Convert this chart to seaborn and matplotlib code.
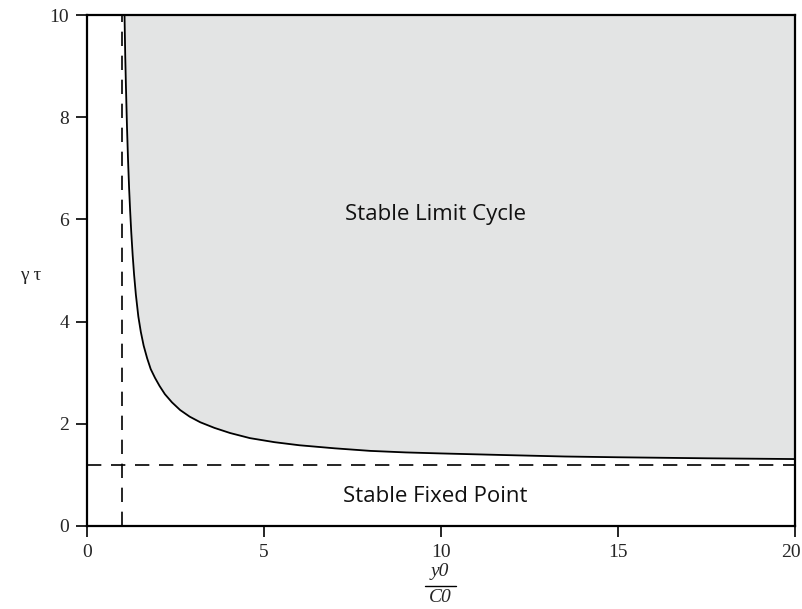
import matplotlib
matplotlib.use("Agg")
import matplotlib.pyplot as plt
import matplotlib.transforms as mtransforms
from matplotlib.lines import Line2D
import seaborn as sns
import pandas as pd

# Boundary curve
ratio = [1.06, 1.08, 1.10, 1.13, 1.16, 1.19, 1.22, 1.25, 1.29, 1.33, 1.38, 1.45,
         1.52, 1.60, 1.70, 1.80, 1.92, 2.05, 2.2, 2.4, 2.63, 2.9, 3.2, 3.6, 4.04,
         4.6, 5.3, 6.0, 7.0, 8.0, 9.0, 10.0, 11.7, 13.5, 15.0, 17.5, 20.0]
gamma_tau = [10.0, 9.2, 8.6, 7.8, 7.15, 6.6, 6.15, 5.75, 5.3, 4.92, 4.53, 4.1,
             3.8, 3.53, 3.28, 3.07, 2.9, 2.74, 2.58, 2.42, 2.27, 2.14, 2.03, 1.92,
             1.82, 1.72, 1.64, 1.58, 1.52, 1.47, 1.44, 1.42, 1.39, 1.36, 1.345,
             1.325, 1.31]
asym_x = 1.0
asym_y = 1.2
x_ticks = [0, 5, 10, 15, 20]
y_ticks = [0, 2, 4, 6, 8, 10]
region_labels = ["Stable Limit Cycle", "Stable Fixed Point"]
region_pos = [(9.85, 6.1), (9.85, 0.58)]

sns.set_style("ticks")

df = pd.DataFrame({"ratio": ratio, "gt": gamma_tau})

W, H = 803, 609
fig = plt.figure(figsize=(W / 100, H / 100), dpi=100)
ax = fig.add_axes([87 / W, 83 / H, (795 - 87) / W, (526 - 15) / H])

ax.fill_between(df["ratio"], df["gt"], 10, color="#e3e4e4", lw=0, zorder=1)
sns.lineplot(data=df, x="ratio", y="gt", ax=ax, color="black", lw=1.3,
             sort=False, zorder=3)
ax.axvline(asym_x, color="black", lw=1.2, dashes=(8.6, 5.8), zorder=2)
ax.axhline(asym_y, color="black", lw=1.2, dashes=(8.6, 5.8), zorder=2)

for txt, (tx, ty) in zip(region_labels, region_pos):
    ax.text(tx, ty, txt, ha="center", va="center", fontsize=16,
            family="Open Sans", color="#111111")

ax.set_xlim(0, 20)
ax.set_ylim(0, 10)
ax.set_xticks(x_ticks)
ax.set_yticks(y_ticks)
ax.set_xticklabels([str(v) for v in x_ticks], family="Liberation Serif", fontsize=14)
ax.set_yticklabels([str(v) for v in y_ticks], family="Liberation Serif", fontsize=14)
ax.tick_params(direction="out", length=8, width=1.2, color="black", pad=5)
for s in ax.spines.values():
    s.set_linewidth(1.6)
    s.set_color("black")
    s.set_visible(True)

# keep the last x tick label inside the canvas
last = ax.get_xticklabels()[-1]
last.set_transform(last.get_transform() +
                   mtransforms.ScaledTranslation(-3 / 72, 0, fig.dpi_scale_trans))

# x label drawn as a stacked fraction
ax.set_xlabel("")
cx = 440 / W
fig.text(cx, 1 - 572 / H, "y0", ha="center", va="center", fontsize=14,
         family="Liberation Serif", style="italic")
fig.text(cx, 1 - 597 / H, "C0", ha="center", va="center", fontsize=14,
         family="Liberation Serif", style="italic")
fig.add_artist(Line2D([425 / W, 456 / W], [1 - 586 / H, 1 - 586 / H],
                      color="black", lw=1.0, transform=fig.transFigure))

ax.set_ylabel("γ τ", family="Liberation Serif", fontsize=14, rotation=0,
              labelpad=0, va="center")
ax.yaxis.set_label_coords(-0.08, 0.49)

fig.savefig("out.png", dpi=100)
